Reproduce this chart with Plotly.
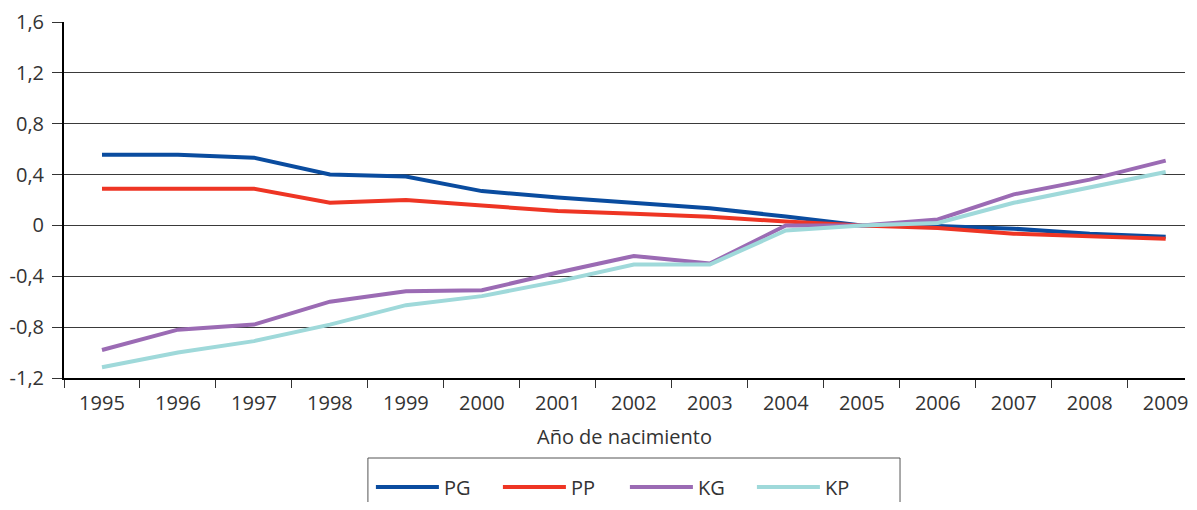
import plotly.graph_objects as go

years = [str(y) for y in range(1995, 2010)]
pg = [0.556, 0.556, 0.533, 0.40, 0.385, 0.27, 0.22, 0.18, 0.136, 0.07, 0.0, -0.005, -0.026, -0.065, -0.09]
pp = [0.289, 0.289, 0.289, 0.178, 0.20, 0.157, 0.113, 0.092, 0.068, 0.03, 0.0, -0.02, -0.065, -0.085, -0.105]
kg = [-0.98, -0.82, -0.78, -0.60, -0.517, -0.51, -0.37, -0.24, -0.30, 0.0, 0.0, 0.047, 0.244, 0.36, 0.51]
kp = [-1.115, -1.0, -0.91, -0.78, -0.627, -0.556, -0.44, -0.307, -0.307, -0.04, 0.0, 0.02, 0.178, 0.297, 0.42]

series_names = ["PG", "PP", "KG", "KP"]
series_colors = ["#0a4c9f", "#ee3524", "#9b6bb4", "#9fd9da"]
series_values = [pg, pp, kg, kp]

y_tickvals = [-1.2, -0.8, -0.4, 0, 0.4, 0.8, 1.2, 1.6]
y_ticktext = ["-1,2", "-0,8", "-0,4", "0", "0,4", "0,8", "1,2", "1,6"]

# page has an 8px body margin; keep the figure inside the window, work in page pixels
OFF = 8
PAGE_W, PAGE_H = 1197, 510
W, H = PAGE_W - 2 * OFF, PAGE_H - 2 * OFF
L, R, T, B = 64, OFF + W, 22, 378
pw, ph = R - L, B - T
CAT_PX = 76.25  # width of one category in the reference (chart is cropped at right)
x_range = [-0.5, -0.5 + pw / CAT_PX]

def px_x(p):
    return (p - L) / pw

def px_y(p):
    return (B - p) / ph

def container_y(p):
    return (OFF + H - p) / H

fig = go.Figure()
for name, color, vals in zip(series_names, series_colors, series_values):
    fig.add_trace(go.Scatter(x=years, y=vals, mode="lines", name=name,
                             line=dict(color=color, width=4)))

font = dict(family="Open Sans, Noto Sans, sans-serif", size=20, color="#333333")

fig.update_layout(
    width=W, height=H,
    margin=dict(l=L - OFF, r=(OFF + W) - R, t=T - OFF, b=(OFF + H) - B),
    paper_bgcolor="white", plot_bgcolor="white",
    font=font,
    showlegend=True,
    legend=dict(orientation="h", x=px_x(372), xanchor="left",
                yref="container", y=container_y(487), yanchor="middle",
                entrywidth=49, entrywidthmode="pixels", itemwidth=63,
                font=dict(size=20, color="#333333"),
                bgcolor="rgba(0,0,0,0)", tracegroupgap=0),
    xaxis=dict(type="category", range=x_range, showgrid=False, showline=True,
               linecolor="black", linewidth=2,
               ticks="outside", tickson="boundaries", ticklen=8, tickcolor="#333333",
               tickfont=font, ticklabelstandoff=6,
               title=dict(text="Año de nacimiento", font=font, standoff=15),
               zeroline=False, fixedrange=True),
    yaxis=dict(range=[-1.2, 1.6], tickvals=y_tickvals, ticktext=y_ticktext,
               showgrid=True, gridcolor="#3a3a3a", gridwidth=1,
               showline=True, linecolor="black", linewidth=2, ticks="outside", ticklen=10,
               tickcolor="#333333", tickfont=font, ticklabelstandoff=4,
               zeroline=False, fixedrange=True),
    shapes=[dict(type="rect", xref="paper", yref="paper",
                 x0=px_x(369), x1=px_x(903), y0=px_y(530), y1=px_y(458),
                 line=dict(color="#555555", width=1), fillcolor="rgba(0,0,0,0)", layer="below")],
)

fig.write_html("out.html")
